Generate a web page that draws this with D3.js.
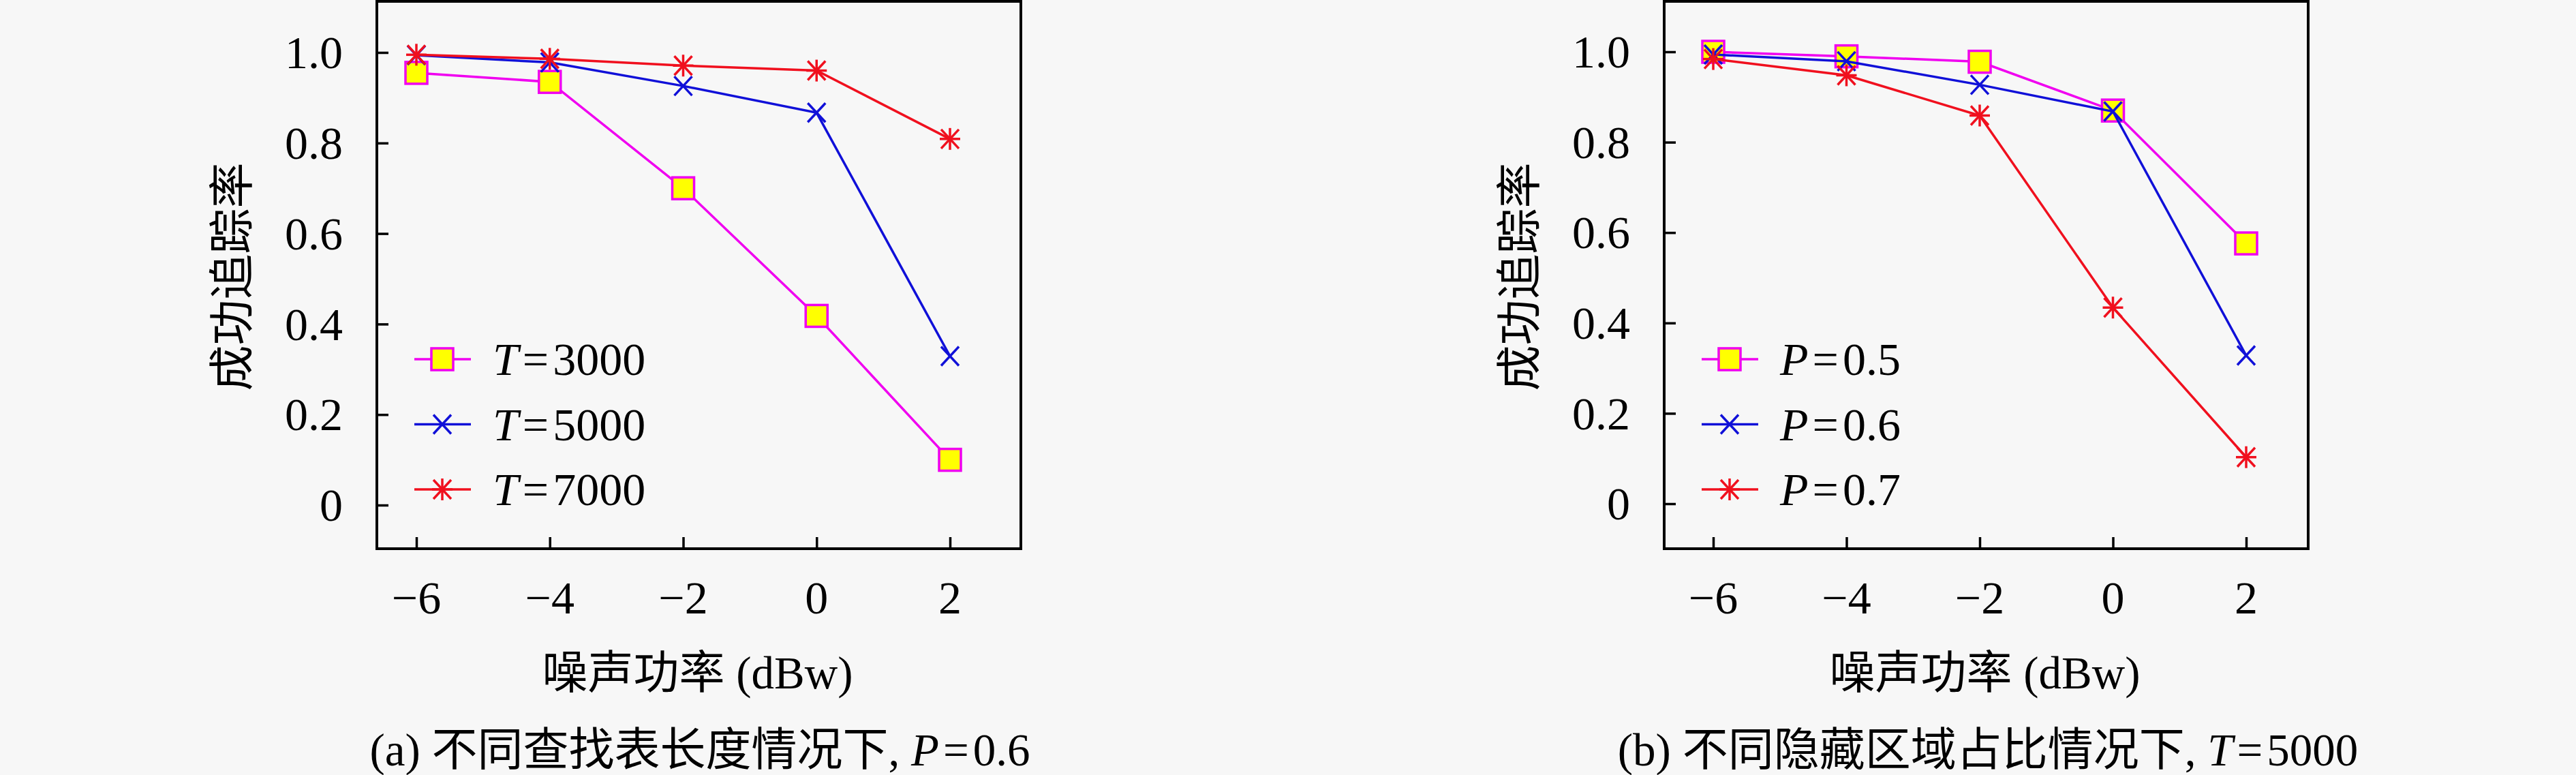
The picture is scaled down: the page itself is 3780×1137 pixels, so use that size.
<!DOCTYPE html>
<html>
<head>
<meta charset="utf-8">
<script src="https://cdn.jsdelivr.net/npm/d3@7"></script>
<style>
    body { margin: 0; background: #f7f7f7; }
    text { font-family: "Liberation Serif", "Noto Sans CJK SC", serif; fill: #000; }
</style>
</head>
<body>
<div id="chart"></div>
<script>
/* Tracking success rate vs noise power, two panels */

const noise = [-6, -4, -2, 0, 2];                 // x values (dBw)
const xTickLabels = ["\u22126", "\u22124", "\u22122", "0", "2"];
const yTicks = [0, 0.2, 0.4, 0.6, 0.8, 1.0];
const yTickLabels = ["0", "0.2", "0.4", "0.6", "0.8", "1.0"];

// panel (a): different lookup table length, P=0.6
const t3000 = [0.955, 0.935, 0.700, 0.418, 0.100];
const t5000 = [0.994, 0.978, 0.926, 0.867, 0.329];
const t7000 = [0.995, 0.986, 0.971, 0.960, 0.809];
const namesA = ["3000", "5000", "7000"];

// panel (b): different hidden area ratio, T=5000
const p05 = [1.000, 0.990, 0.978, 0.870, 0.576];
const p06 = [0.994, 0.979, 0.927, 0.868, 0.328];
const p07 = [0.984, 0.948, 0.859, 0.434, 0.103];
const namesB = ["0.5", "0.6", "0.7"];

const width = 3780,
    height = 1137,
    fontSize = 67;

const styles = [
    {color: "#f000f0", marker: "square"},
    {color: "#1010d8", marker: "cross"},
    {color: "#f0101e", marker: "star"}
];

let svg = d3.select("#chart")
    .append("svg")
    .attr("width", width)
    .attr("height", height)
    .attr("viewBox", [0, 0, width, height]);

svg.append("rect")
    .attr("width", width)
    .attr("height", height)
    .attr("fill", "#f7f7f7");

const panels = [
    {
        box: {left: 553, right: 1498, top: 2, bottom: 805},
        xRange: [611, 1394], yRange: [741, 77],
        series: [t3000, t5000, t7000], names: namesA, sym: "T",
        caption: ["(a) 不同查找表长度情况下, ", "P", "=", "0.6"], capX: 1027
    },
    {
        box: {left: 2442, right: 3387, top: 2, bottom: 805},
        xRange: [2514, 3296], yRange: [739, 76],
        series: [p05, p06, p07], names: namesB, sym: "P",
        caption: ["(b) 不同隐藏区域占比情况下, ", "T", "=", "5000"], capX: 2917
    }
];

function drawMarker(g, type, cx, cy, color) {
    if (type === "square") {
        g.append("rect")
            .attr("x", cx - 16).attr("y", cy - 16)
            .attr("width", 32).attr("height", 32)
            .attr("fill", "#ffff00")
            .attr("stroke", color)
            .attr("stroke-width", 3.5);
    } else {
        let segs = [[-13, -14, 13, 14], [-13, 14, 13, -14]];
        if (type === "star") segs = segs.concat([[0, -16, 0, 16], [-15, 0, 15, 0]]);
        for (let s of segs) {
            g.append("line")
                .attr("x1", cx + s[0]).attr("y1", cy + s[1])
                .attr("x2", cx + s[2]).attr("y2", cy + s[3])
                .attr("stroke", color)
                .attr("stroke-width", 3.5);
        }
    }
}

for (let p of panels) {
    let x = d3.scaleLinear().domain([-6, 2]).range(p.xRange);
    let y = d3.scaleLinear().domain([0, 1]).range(p.yRange);
    let b = p.box;

    // inward ticks on left and bottom
    svg.append("g")
        .attr("transform", `translate(${b.left},0)`)
        .call(d3.axisRight(y).tickValues(yTicks).tickSize(17).tickFormat(""))
        .call(g => g.select(".domain").remove())
        .call(g => g.selectAll("line").attr("stroke", "#000").attr("stroke-width", 3.5));

    svg.append("g")
        .attr("transform", `translate(0,${b.bottom})`)
        .call(d3.axisTop(x).tickValues(noise).tickSize(17).tickFormat(""))
        .call(g => g.select(".domain").remove())
        .call(g => g.selectAll("line").attr("stroke", "#000").attr("stroke-width", 3.5));

    // tick labels
    svg.append("g").selectAll("text")
        .data(yTicks)
        .join("text")
        .attr("x", b.left - 50)
        .attr("y", d => y(d))
        .attr("dy", "0.34em")
        .attr("text-anchor", "end")
        .attr("font-size", fontSize + 1)
        .text((d, i) => yTickLabels[i]);

    svg.append("g").selectAll("text")
        .data(noise)
        .join("text")
        .attr("x", d => x(d))
        .attr("y", 900)
        .attr("text-anchor", "middle")
        .attr("font-size", fontSize + 1)
        .text((d, i) => xTickLabels[i]);

    // series lines + markers
    p.series.forEach((vals, si) => {
        let st = styles[si];
        let pts = noise.map((n, i) => [x(n), y(vals[i])]);
        svg.append("path")
            .attr("d", d3.line()(pts))
            .attr("fill", "none")
            .attr("stroke", st.color)
            .attr("stroke-width", 3.5);
        let mg = svg.append("g");
        pts.forEach(pt => drawMarker(mg, st.marker, pt[0], pt[1], st.color));
    });

    // legend
    p.names.forEach((name, i) => {
        let ly = 527 + i * 95.5;
        let st = styles[i];
        let lg = svg.append("g");
        lg.append("line")
            .attr("x1", b.left + 55).attr("x2", b.left + 138)
            .attr("y1", ly).attr("y2", ly)
            .attr("stroke", st.color)
            .attr("stroke-width", 3.5);
        drawMarker(lg, st.marker, b.left + 96, ly, st.color);
        let t = lg.append("text")
            .attr("x", b.left + 170)
            .attr("y", ly + 23)
            .attr("font-size", fontSize + 1);
        t.append("tspan").attr("font-style", "italic").text(p.sym);
        t.append("tspan").attr("dx", 6).text("=");
        t.append("tspan").attr("dx", 6).text(name);
    });

    // frame
    svg.append("rect")
        .attr("x", b.left).attr("y", b.top)
        .attr("width", b.right - b.left)
        .attr("height", b.bottom - b.top)
        .attr("fill", "none")
        .attr("stroke", "#000")
        .attr("stroke-width", 4);

    // axis titles
    let mid = (b.left + b.right) / 2;
    svg.append("text")
        .attr("transform", `translate(${b.left - 212},406) rotate(-90)`)
        .attr("text-anchor", "middle")
        .attr("dy", "0.35em")
        .attr("font-size", fontSize)
        .text("成功追踪率");

    svg.append("text")
        .attr("x", mid - 2)
        .attr("y", 1010)
        .attr("text-anchor", "middle")
        .attr("font-size", fontSize)
        .text("噪声功率 (dBw)");

    // caption
    let cap = svg.append("text")
        .attr("x", p.capX)
        .attr("y", 1123)
        .attr("text-anchor", "middle")
        .attr("font-size", fontSize);
    cap.append("tspan").text(p.caption[0]);
    cap.append("tspan").attr("font-style", "italic").text(p.caption[1]);
    cap.append("tspan").attr("dx", 6).text(p.caption[2]);
    cap.append("tspan").attr("dx", 6).text(p.caption[3]);
}
</script>
</body>
</html>
